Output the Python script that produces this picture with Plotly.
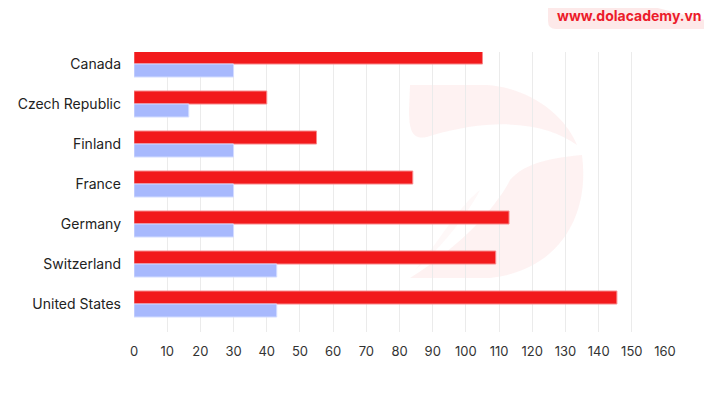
import plotly.graph_objects as go

countries = ['Canada', 'Czech Republic', 'Finland', 'France', 'Germany', 'Switzerland', 'United States']
red_values = [105, 40, 55, 84, 113, 109, 145.5]
blue_values = [30, 16.5, 30, 30, 30, 43, 43]
x_ticks = [0, 10, 20, 30, 40, 50, 60, 70, 80, 90, 100, 110, 120, 130, 140, 150, 160]

W, H = 712, 410
OFF = 8  # page body margin
L, R, T, B = 134, 665, 52, 332  # plot area in screen pixels


def px(x, y):
    # screen pixel -> paper coords
    return (x - L) / (R - L), (B - y) / (B - T)


def path(points):
    s = ''
    for cmd, pts in points:
        s += cmd
        for (x, y) in pts:
            a, b = px(x, y)
            s += f' {a:.4f},{b:.4f}'
        s += ' '
    return s + 'Z'


fig = go.Figure()

fig.add_trace(go.Bar(
    y=countries, x=red_values, orientation='h', name='red',
    marker=dict(color='#f21a1c', line=dict(color='#f88a8c', width=1)),
))
fig.add_trace(go.Bar(
    y=countries, x=blue_values, orientation='h', name='blue',
    marker=dict(color='#a8b9fd', line=dict(color='#d3dcff', width=1)),
))

# faint watermark logo
wm = 'rgba(235,70,70,0.07)'
upper = path([
    ('M', [(410, 85)]),
    ('L', [(487, 85)]),
    ('C', [(530, 88), (565, 115), (577, 145)]),
    ('C', [(550, 125), (500, 115), (430, 136)]),
    ('C', [(412, 142), (409, 130), (409, 110)]),
])
lower = path([
    ('M', [(582, 155)]),
    ('C', [(550, 158), (525, 163), (510, 180)]),
    ('C', [(500, 200), (470, 240), (410, 278)]),
    ('L', [(490, 278)]),
    ('C', [(560, 270), (590, 215), (582, 155)]),
])
cut = path([
    ('M', [(480, 190)]),
    ('C', [(470, 210), (445, 245), (415, 270)]),
    ('C', [(440, 240), (460, 205), (480, 190)]),
])
badge = path([
    ('M', [(548, -20)]),
    ('L', [(548, 21)]),
    ('Q', [(548, 29), (556, 29)]),
    ('L', [(740, 29), (740, -20)]),
])
shapes = [
    dict(type='path', xref='paper', yref='paper', path=upper, fillcolor=wm, line=dict(width=0), layer='below'),
    dict(type='path', xref='paper', yref='paper', path=lower, fillcolor=wm, line=dict(width=0), layer='below'),
    dict(type='path', xref='paper', yref='paper', path=cut, fillcolor='rgba(235,70,70,0.04)', line=dict(width=0), layer='below'),
    dict(type='path', xref='paper', yref='paper', path=badge, fillcolor='#fde9e9', line=dict(width=0)),
]

fig.update_layout(
    width=W, height=H,
    margin=dict(l=L - OFF, r=W - (R - OFF), t=T - OFF, b=H - (B - OFF), pad=0, autoexpand=False),
    paper_bgcolor='white', plot_bgcolor='white',
    barmode='group', bargap=0.35, bargroupgap=0,
    showlegend=False,
    font=dict(family='Inter, Roboto, sans-serif', color='#222222', size=14),
    shapes=shapes,
    xaxis=dict(
        range=[0, 160], tickvals=x_ticks, showgrid=True, gridcolor='#ebebeb', gridwidth=1,
        zeroline=False, showline=False, ticks='', tickfont=dict(size=13, color='#333333'),
        ticklabelstandoff=10, automargin=False,
    ),
    yaxis=dict(
        range=[6.7, -0.3], showgrid=False, zeroline=False, showline=False,
        ticks='', ticklabelstandoff=12, tickfont=dict(size=14, color='#222222'),
        automargin=False,
    ),
)

fig.add_annotation(text='<b>www.dolacademy.vn</b>', xref='paper', yref='paper',
                   x=px(629, 0)[0], y=px(0, 15)[1], xanchor='center', yanchor='middle',
                   showarrow=False,
                   font=dict(size=14, color='#ec1c2b', family='Inter, Roboto, sans-serif'))

fig.write_html('out.html')
